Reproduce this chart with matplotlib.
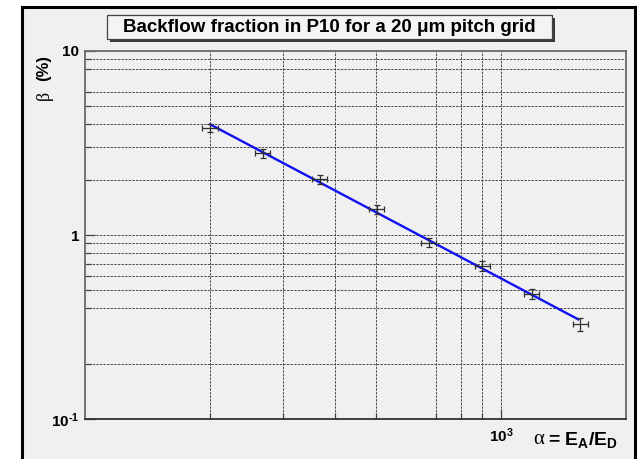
import numpy as np
import matplotlib
matplotlib.use("Agg")
import matplotlib.pyplot as plt
from matplotlib.patches import Rectangle
from matplotlib.ticker import FixedLocator, NullFormatter

plt.rcParams["font.family"] = ["Liberation Sans", "DejaVu Sans"]
plt.rcParams["mathtext.fontset"] = "custom"
plt.rcParams["mathtext.rm"] = "Liberation Sans:bold"
plt.rcParams["mathtext.it"] = "Liberation Sans:bold"
plt.rcParams["mathtext.bf"] = "Liberation Sans:bold"

# Measured backflow fraction vs field ratio
alpha = [200, 268, 367, 504, 672, 903, 1188, 1553]
alpha_err = [8.5, 11, 15, 21, 28, 38, 50, 65]
beta = [3.83, 2.78, 2.01, 1.38, 0.908, 0.681, 0.478, 0.327]
beta_err = [0.2, 0.15, 0.11, 0.08, 0.05, 0.04, 0.03, 0.025]

# Grid / tick positions drawn on the log axes
x_grid = [200, 300, 400, 500, 700, 800, 900, 1000]
y_grid = [0.2, 0.4, 0.5, 0.6, 0.7, 0.8, 0.9, 1, 2, 3, 4, 5, 6, 8, 9]
y_ticks = [0.1, 1, 10]
y_ticklabels = [r"$10^{\text{-}1}$", "1", "10"]
x_ticks = [1000]
x_ticklabels = [r"$10^{3}$"]

W, H = 639, 459
BG = "#f0f0f0"

fig = plt.figure(figsize=(W / 100, H / 100), dpi=100, facecolor="white")


def fx(px):
    return px / W


def fy(py):
    return 1 - py / H


# Canvas frame
frame = Rectangle((fx(22), fy(470)), fx(635) - fx(22), fy(7) - fy(470),
                  transform=fig.transFigure, facecolor=BG, edgecolor="black",
                  linewidth=2.2, zorder=-5)
fig.patches.append(frame)

ax = fig.add_axes([fx(85), fy(419), fx(626) - fx(85), fy(51) - fy(419)])
ax.set_facecolor(BG)
ax.set_xscale("log")
ax.set_yscale("log")
ax.set_xlim(100, 2000)
ax.set_ylim(0.1, 10)

for v in x_grid:
    ax.axvline(v, color="#4a4a4a", linewidth=0.7, linestyle=(0, (2.5, 1.2)), zorder=1)
for v in y_grid:
    ax.axhline(v, color="#4a4a4a", linewidth=0.7, linestyle=(0, (2.5, 1.2)), zorder=1)

ax.xaxis.set_major_locator(FixedLocator(x_ticks))
ax.xaxis.set_minor_locator(FixedLocator([v for v in x_grid if v not in x_ticks]))
ax.yaxis.set_major_locator(FixedLocator(y_ticks))
ax.yaxis.set_minor_locator(FixedLocator([v for v in y_grid if v not in y_ticks]))
ax.set_xticklabels(x_ticklabels)
ax.set_yticklabels(y_ticklabels)
ax.xaxis.set_minor_formatter(NullFormatter())
ax.yaxis.set_minor_formatter(NullFormatter())
ax.tick_params(which="both", direction="in", colors="#404040", width=0.9,
               labelcolor="black", labelsize=11)
ax.tick_params(which="major", length=7)
ax.tick_params(which="minor", length=4)
ax.tick_params(axis="y", pad=4)
ax.tick_params(axis="x", pad=5)
for lab in ax.get_xticklabels() + ax.get_yticklabels():
    lab.set_fontweight("bold")

for side in ["left", "top", "right"]:
    ax.spines[side].set_color("#6a6a6a")
    ax.spines[side].set_linewidth(1.3)
ax.spines["bottom"].set_color("#303030")
ax.spines["bottom"].set_linewidth(1.3)

# Power-law fit through the measurements
la, lb = np.log10(alpha), np.log10(beta)
slope, icpt = np.polyfit(la, lb, 1)
xf = np.logspace(la[0], la[-1] - 0.005, 100)
ax.plot(xf, 10 ** (icpt + slope * np.log10(xf)), color="#1010f0", linewidth=1.7, zorder=3)

ax.errorbar(alpha, beta, xerr=alpha_err, yerr=beta_err, fmt="none",
            ecolor="#303030", elinewidth=0.9, capsize=2.5, capthick=0.9, zorder=4)

# Title box with drop shadow
tx0, tx1, ty0, ty1 = 107, 552, 15, 39
shadow = Rectangle((fx(tx0 + 3), fy(ty1 + 3)), fx(tx1) - fx(tx0), fy(ty0) - fy(ty1),
                   transform=fig.transFigure, facecolor="#3a3a3a", edgecolor="none", zorder=5)
box = Rectangle((fx(tx0), fy(ty1)), fx(tx1) - fx(tx0), fy(ty0) - fy(ty1),
                transform=fig.transFigure, facecolor="#f4f4f4", edgecolor="#444444",
                linewidth=0.9, zorder=6)
fig.patches.extend([shadow, box])
fig.text(fx((tx0 + tx1) / 2), fy((ty0 + ty1) / 2 + 0.5),
         "Backflow fraction in P10 for a 20 \u03bcm pitch grid",
         ha="center", va="center", fontsize=13.5, fontweight="bold", zorder=7)

# Axis titles
fig.text(fx(44), fy(95), "\u03b2", rotation=90, ha="center", va="center",
         fontsize=13, family=["Liberation Serif", "DejaVu Serif"])
fig.text(fx(44), fy(68), "(%)", rotation=90, ha="center", va="center",
         fontsize=12, fontweight="bold")
fig.text(fx(539), fy(440), "\u03b1", ha="center", va="center",
         fontsize=15, family=["Liberation Serif", "DejaVu Serif"])
fig.text(fx(548), fy(440), r"= E$_{\mathbf{A}}$/E$_{\mathbf{D}}$", ha="left", va="center",
         fontsize=14, fontweight="bold")

fig.savefig("out.png", dpi=100, facecolor="white")
